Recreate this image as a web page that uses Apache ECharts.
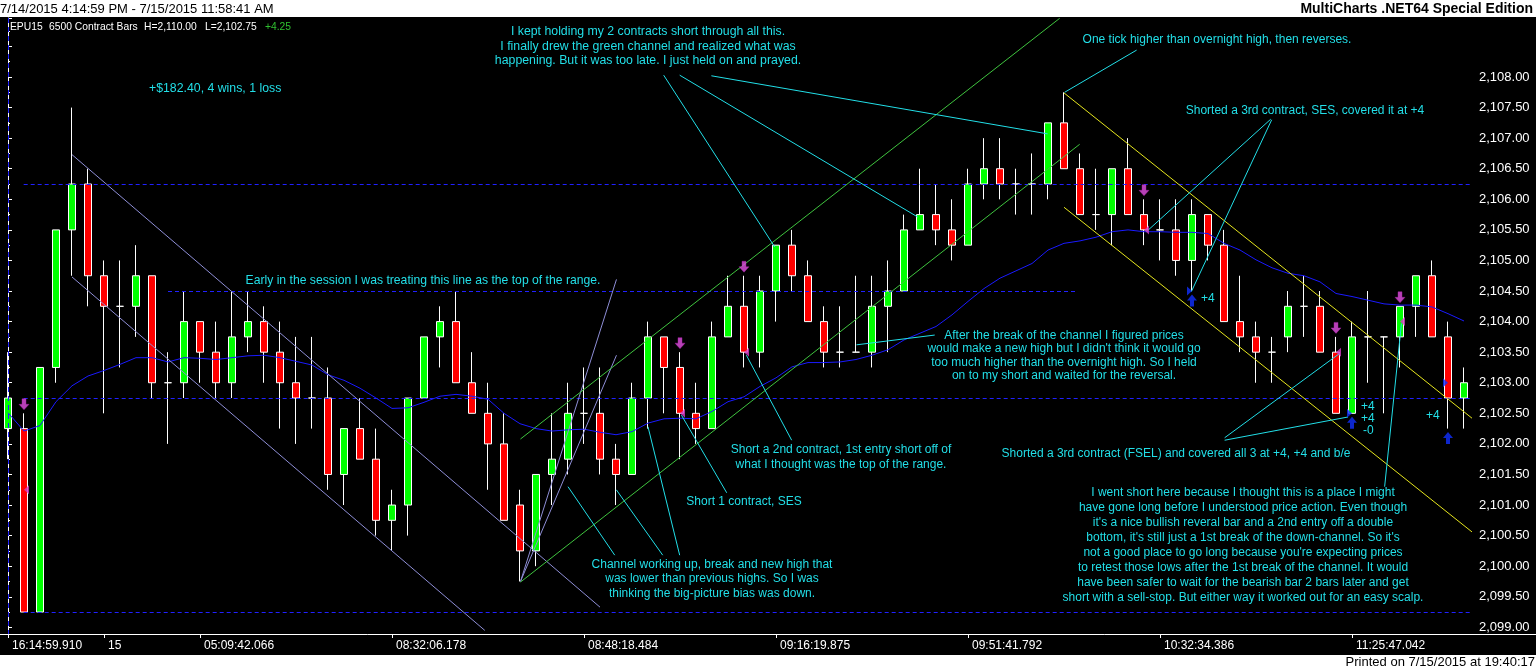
<!DOCTYPE html>
<html><head><meta charset="utf-8">
<script src="https://cdn.jsdelivr.net/npm/echarts@6/dist/echarts.min.js"></script>
<style>html,body{margin:0;padding:0;background:#fff}#c{width:1536px;height:670px}</style>
</head><body><div id="c"></div><script>
// ---- tick labels ----
const labelIdx = [0,6,12,24,36,48,60,72,84];
const labelText = ['16:14:59.910','15','05:09:42.066','08:32:06.178','08:48:18.484','09:16:19.875','09:51:41.792','10:32:34.386','11:25:47.042'];
// ---- OHLC ----
const opens = [2102.25,2102.25,2099.25,2103.25,2105.5,2106.25,2104.75,2104.25,2104.25,2104.75,
 2103,2103,2104,2103.5,2103,2103.75,2104,2103.5,2103,2102.75,
 2102.75,2101.5,2102.25,2101.75,2100.75,2101,2102.75,2103.75,2104,2103,
 2102.5,2102,2101,2100.25,2101.5,2101.75,2102.5,2102.5,2101.75,2101.5,
 2102.75,2103.75,2103.25,2102.5,2102.25,2103.75,2104.25,2103.5,2104.5,2105.25,
 2104.75,2104,2103.5,2103.5,2103.5,2104.25,2104.5,2105.5,2105.75,2105.5,
 2105.25,2106.25,2106.5,2106.25,2106.25,2106.25,2107.25,2106.5,2105.75,2105.75,
 2106.5,2105.75,2105.5,2105.5,2105,2105.75,2105.25,2104,2103.75,2103.5,
 2103.75,2104.25,2104.25,2103.5,2102.5,2103.75,2103.75,2103.75,2104.25,2104.75,
 2103.75,2102.75];
const closes = [2102.75,2099.25,2103.25,2105.5,2106.25,2104.75,2104.25,2104.25,2104.75,2103,
 2103,2104,2103.5,2103,2103.75,2104,2103.5,2103,2102.75,2102.75,
 2101.5,2102.25,2101.75,2100.75,2101,2102.75,2103.75,2104,2103,2102.5,
 2102,2100.75,2100.25,2101.5,2101.75,2102.5,2102.5,2101.75,2101.5,2102.75,
 2103.75,2103.25,2102.5,2102.25,2103.75,2104.25,2103.5,2104.5,2105.25,2104.75,
 2104,2103.5,2103.5,2103.5,2104.25,2104.5,2105.5,2105.75,2105.5,2105.25,
 2106.25,2106.5,2106.25,2106.25,2106.25,2107.25,2106.5,2105.75,2105.75,2106.5,
 2105.75,2105.5,2105.5,2105,2105.75,2105.25,2104,2103.75,2103.5,2103.5,
 2104.25,2104.25,2103.5,2102.5,2103.75,2103.75,2103.75,2104.25,2104.75,2103.75,
 2102.75,2103];
const lows = [2101.75,2099.25,2099.25,2103,2104.75,2104.25,2102.5,2103.25,2103.75,2102.75,
 2102,2102.75,2103,2102.75,2102.75,2103.5,2103,2102.25,2102,2102.25,
 2101.25,2101,2101.75,2100.5,2100.25,2100.5,2102.75,2103.25,2103,2102.5,
 2101.25,2100.75,2099.75,2100,2101,2101.5,2102,2101.5,2101,2101.5,
 2102.25,2102.5,2101.75,2102,2102.25,2103.75,2103.25,2103.25,2104,2104.5,
 2104,2103.25,2103.25,2103.5,2103.25,2103.5,2104.5,2105.5,2105.25,2105,
 2105.25,2106,2106,2105.75,2105.75,2106,2106.5,2105.75,2105.5,2105.25,
 2105.75,2105.25,2105,2104.75,2104.5,2105,2104,2103.5,2103,2103,
 2103.5,2103.75,2103.5,2102.5,2102.5,2103,2102.5,2103.25,2103.75,2103.75,
 2102.25,2102.25];
const highs = [2103.5,2102.5,2103.25,2105.5,2107.5,2106.5,2105,2105,2105.25,2104.75,
 2103.5,2104.5,2104,2104,2104.5,2104.5,2104.25,2104,2103.75,2103.75,
 2103.25,2102.25,2102.75,2102.25,2101.25,2102.75,2103.75,2104.25,2104.5,2103.5,
 2103,2102.5,2101.25,2101.5,2102.5,2103,2103.25,2103.25,2102,2103,
 2104,2103.75,2103.5,2103,2104,2104.75,2104.75,2104.75,2105.25,2105.5,
 2105,2104.25,2104.25,2104.75,2104.75,2105,2105.75,2106.5,2106.25,2106,
 2106.5,2107,2107,2106.5,2106.75,2107.25,2107.75,2106.75,2106.5,2106.5,
 2107,2106,2106,2106,2106,2105.75,2105.5,2104.75,2104,2103.75,
 2104.5,2104.75,2104.5,2103.75,2104,2104.5,2103.75,2104.25,2104.75,2105,
 2104,2103.25];
// ---- moving average ----
const maValues = [2102.51,2102.21,2102.30,2102.69,2102.95,2103.11,2103.20,2103.30,2103.41,2103.41,
 2103.34,2103.41,2103.40,2103.38,2103.41,2103.44,2103.45,2103.41,2103.35,2103.29,
 2103.13,2103.04,2102.91,2102.75,2102.58,2102.59,2102.68,2102.78,2102.81,2102.78,
 2102.73,2102.50,2102.33,2102.25,2102.21,2102.23,2102.24,2102.19,2102.15,2102.20,
 2102.34,2102.41,2102.42,2102.41,2102.53,2102.69,2102.77,2102.94,2103.08,2103.26,
 2103.33,2103.33,2103.34,2103.38,2103.45,2103.54,2103.70,2103.81,2103.92,2104.11,
 2104.33,2104.54,2104.71,2104.83,2104.95,2105.17,2105.28,2105.32,2105.38,2105.47,
 2105.50,2105.47,2105.47,2105.46,2105.46,2105.44,2105.28,2105.17,2105.01,2104.88,
 2104.79,2104.75,2104.65,2104.46,2104.41,2104.35,2104.29,2104.27,2104.27,2104.24,
 2104.13,2104.01];
// ---- horizontal levels ----
const hLevels = [2106.25, 2104.5, 2102.75, 2099.25];
const hFrom = [0.98, 10, 0.98, 0.98];
const hTo = [91.5, 66.8, 91.5, 91.5];
// ---- trades ----
const shortBars = [1,42,46,71,83,87];
const shortPrices = [2101.25,2102.5,2103.5,2105.5,2103.5,2104.0];
const coverBars = [74,84,90];
const coverPrices = [2104.5,2102.5,2103.0];
// ---- drawn lines (bar index, price) ----
const lavenderLines = [
 [[4.0,2106.73],[37.0,2099.33]],
 [[4.0,2104.73],[29.8,2098.95]],
 [[32.03,2099.75],[38.03,2104.69]],
 [[32.03,2099.75],[38.03,2103.45]]
];
const greenLines = [
 [[32.03,2099.74],[66.98,2106.90]],
 [[32.03,2102.08],[65.73,2108.96]]
];
const yellowLines = [
 [[66.0,2107.74],[91.5,2102.42]],
 [[66.0,2105.87],[91.5,2100.56]]
];
const cyanLines = [
 [[40.98,2108.03],[47.92,2105.22]],
 [[41.98,2108.03],[56.86,2105.71]],
 [[43.96,2108.02],[64.98,2107.07]],
 [[66.04,2107.75],[70.54,2108.44]],
 [[78.92,2107.31],[71.15,2105.47]],
 [[78.98,2107.30],[73.96,2104.49]],
 [[76.04,2102.10],[83.23,2103.48]],
 [[76.04,2102.06],[83.75,2102.44]],
 [[86.04,2101.30],[87.09,2103.97]],
 [[48.98,2102.06],[46.15,2103.45]],
 [[44.92,2101.20],[42.09,2102.47]],
 [[37.92,2100.18],[35.00,2101.30]],
 [[40.92,2100.18],[38.02,2101.25]],
 [[41.98,2100.18],[40.00,2102.28]],
 [[57.92,2103.78],[53.03,2103.62]]
];
const yMin = 2098.891, yMax = 2108.965;

const CYAN = '#22dfe8';
const FONT = '"Liberation Sans", Arial, sans-serif';
const categories = Array.from({length: opens.length}, (_, i) => {
  const k = labelIdx.indexOf(i); return k >= 0 ? labelText[k] : String(i);
});
function fmt(v){
  if (Math.abs(v*2 - Math.round(v*2)) > 1e-6 || v > 2108.01 || v < 2098.99) return '';
  const s = v.toFixed(2).split('.');
  return s[0].replace(/\B(?=(\d{3})+(?!\d))/g, ',') + '.' + s[1];
}
function txt(lines, x, top, lh, align, color, font){
  return {type:'text', z:50, silent:true, style:{text: lines.join('\n'), x:x, y:top, align: align||'center',
    verticalAlign:'top', lineHeight: lh||14, fill: color||CYAN, font: font||('12px '+FONT)}};
}
const graphics = [
  {type:'rect', z:40, silent:true, shape:{x:0,y:0,width:1536,height:17}, style:{fill:'#fff'}},
  {type:'rect', z:40, silent:true, shape:{x:0,y:655,width:1536,height:15}, style:{fill:'#fff'}},
  {type:'rect', z:40, silent:true, shape:{x:1472,y:634,width:64,height:1}, style:{fill:'#fff'}},
  txt(['7/14/2015 4:14:59 PM - 7/15/2015 11:58:41 AM'], 0, 1, 16, 'left', '#000', '13px '+FONT),
  txt(['MultiCharts .NET64 Special Edition'], 1533, 1, 16, 'right', '#000', 'bold 14px '+FONT),
  txt(['Printed on 7/15/2015 at 19:40:17'], 1535, 655, 15, 'right', '#000', '13px '+FONT),
  txt(['EPU15'], 10, 21, 13, 'left', '#fff', '10.3px '+FONT),
  txt(['6500 Contract Bars'], 49, 21, 13, 'left', '#fff', '10.3px '+FONT),
  txt(['H=2,110.00'], 144, 21, 13, 'left', '#fff', '10.3px '+FONT),
  txt(['L=2,102.75'], 205, 21, 13, 'left', '#fff', '10.3px '+FONT),
  txt(['+4.25'], 265, 21, 13, 'left', '#30c030', '10.3px '+FONT),
  txt(['+$182.40, 4 wins, 1 loss'], 149, 81, 15, 'left', CYAN, '12.3px '+FONT),
  txt(['I kept holding my 2 contracts short through all this.',
       'I finally drew the green channel and realized what was',
       'happening. But it was too late. I just held on and prayed.'], 648, 24.3, 14.7, 'center', CYAN, '12.3px '+FONT),
  txt(['One tick higher than overnight high, then reverses.'], 1217, 33, 14),
  txt(['Shorted a 3rd contract, SES, covered it at +4'], 1305, 103.5, 14),
  txt(['Early in the session I was treating this line as the top of the range.'], 423, 274, 14, 'center', CYAN, '12.2px '+FONT),
  txt(['After the break of the channel I figured prices',
       'would make a new high but I didn\'t think it would go',
       'too much higher than the overnight high. So I held',
       'on to my short and waited for the reversal.'], 1064, 329, 13.4),
  txt(['Short a 2nd contract, 1st entry short off of',
       'what I thought was the top of the range.'], 841, 442, 15),
  txt(['Short 1 contract, SES'], 744, 494.5, 14),
  txt(['Shorted a 3rd contract (FSEL) and covered all 3 at +4, +4 and b/e'], 1176, 446.5, 14),
  txt(['Channel working up, break and new high that',
       'was lower than previous highs. So I was',
       'thinking the big-picture bias was down.'], 712, 557, 14.5),
  txt(['I went short here because I thought this is a place I might',
       'have gone long before I understood price action. Even though',
       'it\'s a nice bullish reveral bar and a 2nd entry off a double',
       'bottom, it\'s still just a 1st break of the down-channel. So it\'s',
       'not a good place to go long because you\'re expecting prices',
       'to retest those lows after the 1st break of the channel. It would',
       'have been safer to wait for the bearish bar 2 bars later and get',
       'short with a sell-stop. But either way it worked out for an easy scalp.'], 1243, 485.5, 15),
  txt(['+4'], 1201, 292, 14, 'left'),
  txt(['+4','+4'], 1361, 401, 11.7, 'left'),
  txt(['-0'], 1363, 424, 14, 'left'),
  txt(['+4'], 1426, 408.5, 14, 'left')
];
function linesSeries(segs, color, type){
  return {type:'lines', coordinateSystem:'cartesian2d', xAxisIndex:1, yAxisIndex:0, polyline:false, silent:true, z:5,
    lineStyle:{color:color, width:1, opacity:1, curveness:0, type: type||'solid'},
    data: segs.map(c => ({coords:c}))};
}
const hSegs = hLevels.map((p,i) => [[hFrom[i], p],[hTo[i], p]]);
const vSegs = [[[0, yMax],[0, yMin]]];
const downArrow = 'path://M3,0 L7,0 L7,5 L10,5 L5,10 L0,5 L3,5 Z';
const upArrow = 'path://M5,0 L10,5 L7,5 L7,10 L3,10 L3,5 L0,5 Z';
const leftTri = 'path://M6,0 L6,10 L0,5 Z';
const rightTri = 'path://M0,0 L6,5 L0,10 Z';

const chart = echarts.init(document.getElementById('c'));
chart.setOption({
  animation:false,
  backgroundColor:'#000',
  textStyle:{fontFamily: FONT},
  grid:{left:0, right:64, top:18, bottom:36, containLabel:false, outerBoundsMode:'none'},
  xAxis:[
    {type:'category', data:categories, boundaryGap:true, position:'bottom',
     axisLine:{show:true, onZero:false, lineStyle:{color:'#fff', width:1}},
     axisTick:{show:true, alignWithLabel:true, length:4, interval:(i)=>labelIdx.includes(i), lineStyle:{color:'#fff'}},
     axisLabel:{show:true, interval:(i)=>labelIdx.includes(i), align:'left', color:'#fff', fontSize:12, fontFamily:FONT, margin:6, padding:[0,0,0,4]},
     splitLine:{show:false}},
    {type:'value', min:-0.5, max:91.5, show:false, gridIndex:0}
  ],
  yAxis:[{type:'value', position:'right', min:yMin, max:yMax, splitNumber:20, minInterval:0.5, maxInterval:0.5,
    axisLine:{show:true, lineStyle:{color:'#fff', width:1}},
    axisTick:{show:true, inside:false, length:4, lineStyle:{color:'#fff'}},
    minorTick:{show:true, splitNumber:2, length:2, lineStyle:{color:'#fff'}},
    splitLine:{show:false}, minorSplitLine:{show:false},
    axisLabel:{show:true, color:'#fff', fontSize:13, fontFamily:FONT, margin:7, formatter:fmt, showMinLabel:true, showMaxLabel:true}}],
  series:[
    linesSeries(hSegs, '#2020ff', [4,3]),
    linesSeries(vSegs, '#2020ff', [5,4]),
    {type:'candlestick', xAxisIndex:0, yAxisIndex:0, barWidth:8, z:3, silent:true,
     data: opens.map((o,i) => [o, closes[i], lows[i], highs[i]]),
     itemStyle:{color:'#00ff00', color0:'#ff0000', borderColor:'#ffffff', borderColor0:'#ffffff', borderColorDoji:'#ffffff', borderWidth:1}},
    {type:'line', xAxisIndex:0, yAxisIndex:0, data:maValues, symbol:'none', z:4, silent:true,
     lineStyle:{color:'#1a1aff', width:1}},
    linesSeries(lavenderLines, '#8e8ed6'),
    linesSeries(greenLines, '#3fc43f'),
    linesSeries(yellowLines, '#e6e61e'),
    linesSeries(cyanLines, CYAN),
    {type:'scatter', xAxisIndex:0, yAxisIndex:0, z:8, silent:true, symbol:downArrow, symbolSize:[10,11], symbolOffset:[0,-9],
     itemStyle:{color:'#e451e4', borderColor:'#b020b0', borderWidth:0.5}, data: shortBars.map(b => [b, highs[b]])},
    {type:'scatter', xAxisIndex:0, yAxisIndex:0, z:8, silent:true, symbol:leftTri, symbolSize:[5,9], symbolOffset:[2.5,0],
     itemStyle:{color:'#d83cc8'}, data: shortBars.map((b,i) => [b, shortPrices[i]])},
    {type:'scatter', xAxisIndex:0, yAxisIndex:0, z:8, silent:true, symbol:rightTri, symbolSize:[5,9], symbolOffset:[-2.5,0],
     itemStyle:{color:'#1030ff'}, data: coverBars.map((b,i) => [b, coverPrices[i]])},
    {type:'scatter', xAxisIndex:0, yAxisIndex:0, z:8, silent:true, symbol:upArrow, symbolSize:[10,12], symbolOffset:[0,9.5],
     itemStyle:{color:'#1030ff'}, data: coverBars.map(b => [b, lows[b]])}
  ],
  graphic: graphics
});
</script></body></html>
